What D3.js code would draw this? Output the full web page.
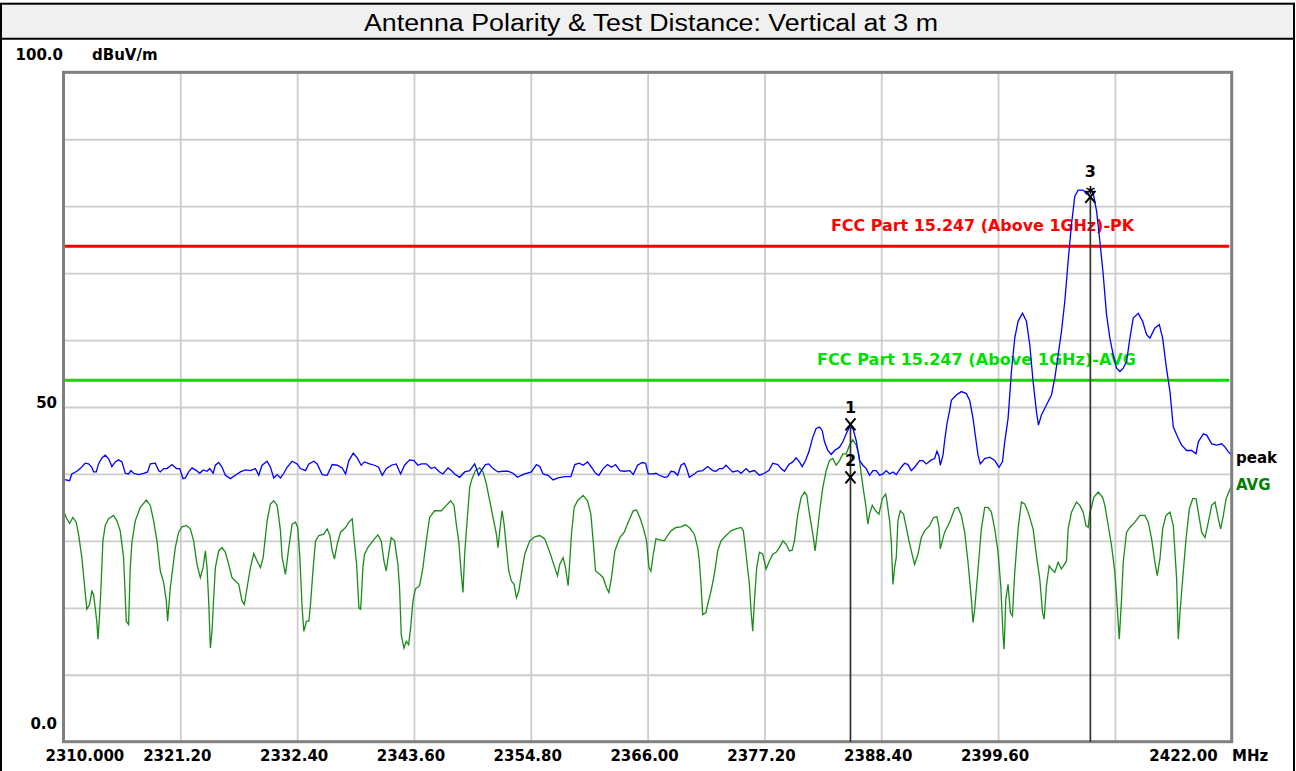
<!DOCTYPE html>
<html>
<head>
<meta charset="utf-8">
<script src="https://cdn.jsdelivr.net/npm/d3@7"></script>
<style>
  body { margin: 0; background: #fff; }
  svg { display: block; }
</style>
</head>
<body>
<svg id="chart" width="1296" height="771"></svg>
<script>
const title = "Antenna Polarity & Test Distance: Vertical at 3 m";
const unitLabel = "dBuV/m";
const freqUnit = "MHz";

const xTicks = [2310, 2321.2, 2332.4, 2343.6, 2354.8, 2366, 2377.2, 2388.4, 2399.6, 2410.8, 2422];
const xTickLabels = ["2310.000", "2321.20", "2332.40", "2343.60", "2354.80", "2366.00", "2377.20", "2388.40", "2399.60", "", "2422.00"];
const yTicks = [0, 10, 20, 30, 40, 50, 60, 70, 80, 90, 100];
const yTickLabels = { 100: "100.0", 50: "50", 0: "0.0" };

const limitNames = ["FCC Part 15.247 (Above 1GHz)-PK", "FCC Part 15.247 (Above 1GHz)-AVG"];
const limitLevels = [74, 54];

const markerIds = ["1", "2", "3"];
const markerFreqs = [2385.45, 2385.45, 2408.45];
const markerLevels = [47.4, 39.5, 81.4];

// peak trace [MHz, dBuV/m]
const peakTrace = [[2310.00,39.2],[2310.58,39.0],[2310.80,40.0],[2311.28,40.4],[2311.60,40.8],[2312.08,41.6],[2312.40,41.5],[2312.72,41.0],[2312.88,40.3],[2313.14,40.3],[2313.36,41.5],[2313.68,42.4],[2314.00,42.8],[2314.32,42.3],[2314.64,41.1],[2314.96,41.8],[2315.28,42.1],[2315.60,41.8],[2315.92,40.1],[2316.24,40.0],[2316.46,40.5],[2316.72,40.1],[2317.20,39.9],[2317.68,40.1],[2318.06,40.3],[2318.32,41.5],[2318.80,41.6],[2319.12,40.5],[2319.28,40.3],[2319.60,40.8],[2319.92,40.8],[2320.40,41.4],[2320.82,40.8],[2321.14,40.8],[2321.46,39.3],[2321.68,39.4],[2322.00,40.3],[2322.32,40.9],[2322.74,40.5],[2323.06,40.1],[2323.38,40.6],[2323.76,40.4],[2324.02,40.8],[2324.34,40.1],[2324.56,41.3],[2324.88,41.7],[2325.20,41.0],[2325.52,39.8],[2326.00,39.3],[2326.48,39.8],[2326.96,40.3],[2327.44,40.6],[2327.92,40.5],[2328.40,40.8],[2328.72,39.8],[2329.04,41.3],[2329.52,41.9],[2329.84,41.0],[2330.16,39.4],[2330.48,39.9],[2330.80,39.4],[2331.12,40.1],[2331.44,41.0],[2331.92,41.9],[2332.40,41.5],[2332.72,40.8],[2333.20,40.5],[2333.52,41.5],[2334.00,41.9],[2334.32,41.5],[2334.80,39.9],[2335.28,39.8],[2335.76,41.4],[2336.24,41.3],[2336.72,40.9],[2337.04,40.0],[2337.36,42.0],[2337.78,43.1],[2338.16,42.4],[2338.54,41.3],[2338.86,41.8],[2339.34,41.5],[2339.82,41.3],[2340.21,41.0],[2340.56,39.8],[2340.94,40.8],[2341.42,41.3],[2341.90,41.5],[2342.32,40.0],[2342.70,41.3],[2343.18,42.1],[2343.60,42.0],[2343.98,41.3],[2344.30,41.5],[2344.78,41.5],[2345.26,40.8],[2345.58,41.0],[2346.06,40.3],[2346.38,40.0],[2346.86,40.9],[2347.18,40.5],[2347.50,40.0],[2347.98,39.5],[2348.46,40.3],[2348.94,40.5],[2349.42,41.5],[2349.81,39.8],[2350.06,40.5],[2350.45,41.4],[2350.77,41.5],[2351.18,40.8],[2351.66,40.3],[2352.14,40.4],[2352.62,40.4],[2353.10,40.1],[2353.52,39.5],[2353.90,39.8],[2354.22,40.0],[2354.86,40.3],[2355.34,41.4],[2355.66,41.1],[2355.98,40.0],[2356.46,39.8],[2356.94,39.1],[2357.42,39.4],[2358.06,39.6],[2358.64,39.6],[2359.02,41.4],[2359.44,41.6],[2359.82,41.3],[2360.24,41.8],[2360.62,41.0],[2361.01,40.1],[2361.33,39.8],[2361.74,40.8],[2362.16,41.4],[2362.54,41.0],[2362.93,41.4],[2363.34,40.5],[2363.76,40.4],[2364.30,40.5],[2364.62,39.9],[2365.04,41.3],[2365.49,41.7],[2365.81,41.6],[2366.06,40.0],[2366.54,40.0],[2366.80,40.1],[2367.12,39.8],[2367.60,39.5],[2367.92,39.6],[2368.24,40.4],[2368.56,40.3],[2368.88,39.8],[2369.20,41.3],[2369.52,41.6],[2369.74,40.8],[2370.00,39.5],[2370.32,39.8],[2370.80,40.4],[2371.28,40.5],[2371.76,41.1],[2372.24,40.5],[2372.56,40.4],[2372.88,40.8],[2373.20,40.8],[2373.52,41.3],[2373.84,40.8],[2374.16,40.3],[2374.64,40.5],[2374.96,40.1],[2375.44,40.8],[2375.76,40.3],[2376.24,40.5],[2376.72,39.8],[2377.20,40.1],[2377.62,40.5],[2378.00,41.6],[2378.48,41.4],[2378.80,40.8],[2379.12,40.4],[2379.54,41.4],[2379.92,41.8],[2380.24,42.4],[2380.56,41.8],[2380.82,41.1],[2381.14,42.0],[2381.46,43.3],[2381.84,45.5],[2382.16,46.8],[2382.48,47.0],[2382.74,46.5],[2382.96,44.8],[2383.28,43.5],[2383.60,42.9],[2383.92,43.5],[2384.40,44.0],[2384.72,44.8],[2385.04,46.0],[2385.36,47.0],[2385.68,46.8],[2386.00,45.0],[2386.32,42.0],[2386.64,41.3],[2386.96,40.8],[2387.28,39.8],[2387.60,40.5],[2387.92,40.5],[2388.24,39.8],[2388.56,40.0],[2388.88,40.5],[2389.20,40.0],[2389.52,40.3],[2389.84,39.9],[2390.32,41.0],[2390.64,41.6],[2390.96,41.4],[2391.28,40.5],[2391.60,41.0],[2392.08,42.0],[2392.40,42.0],[2392.72,41.5],[2393.20,42.1],[2393.52,42.3],[2393.74,43.4],[2393.94,42.6],[2394.06,41.3],[2394.32,42.8],[2394.48,45.0],[2394.70,47.5],[2394.96,49.5],[2395.12,51.0],[2395.60,51.8],[2396.08,52.3],[2396.56,52.0],[2396.88,51.0],[2397.20,48.3],[2397.46,45.3],[2397.68,42.8],[2397.90,41.5],[2398.32,42.3],[2398.80,42.5],[2399.28,42.0],[2399.70,41.0],[2400.02,41.8],[2400.24,44.8],[2400.56,48.3],[2400.88,55.3],[2401.20,60.3],[2401.52,62.8],[2401.94,64.0],[2402.32,62.8],[2402.64,59.3],[2402.96,53.8],[2403.28,49.3],[2403.47,47.3],[2403.76,48.8],[2404.24,50.3],[2404.72,51.8],[2405.04,54.3],[2405.36,57.8],[2405.68,61.3],[2406.00,65.8],[2406.32,71.8],[2406.64,77.3],[2406.96,81.5],[2407.28,82.4],[2407.76,82.4],[2408.08,81.8],[2408.40,82.3],[2408.72,82.0],[2409.04,79.3],[2409.36,74.8],[2409.68,69.8],[2410.00,63.8],[2410.32,60.3],[2410.64,57.8],[2410.96,55.8],[2411.28,55.3],[2411.60,55.8],[2411.92,56.8],[2412.24,60.3],[2412.56,63.3],[2413.04,64.0],[2413.46,62.8],[2413.84,60.8],[2414.16,60.3],[2414.64,61.8],[2415.06,62.3],[2415.38,60.3],[2415.70,56.3],[2416.08,52.3],[2416.40,47.0],[2416.88,45.3],[2417.20,44.3],[2417.68,43.5],[2418.16,43.5],[2418.58,43.0],[2418.80,44.8],[2419.28,46.0],[2419.60,45.8],[2420.08,44.5],[2420.56,44.3],[2421.04,44.5],[2421.36,44.0],[2421.68,43.3],[2422.00,42.8]];

// average trace [MHz, dBuV/m]
const avgTrace = [[2310.00,34.5],[2310.32,33.3],[2310.58,32.6],[2310.90,33.5],[2311.22,32.8],[2311.44,31.0],[2311.76,27.5],[2312.08,22.3],[2312.24,19.8],[2312.50,20.5],[2312.72,22.5],[2312.88,22.0],[2313.04,20.0],[2313.20,17.8],[2313.30,15.3],[2313.46,19.0],[2313.58,22.5],[2313.78,30.0],[2314.00,32.3],[2314.32,33.3],[2314.80,33.8],[2315.12,33.0],[2315.44,31.5],[2315.76,27.5],[2316.02,18.0],[2316.24,17.5],[2316.40,26.0],[2316.56,29.8],[2316.88,33.0],[2317.36,35.0],[2317.94,36.1],[2318.32,35.3],[2318.64,33.0],[2318.96,30.0],[2319.28,25.5],[2319.60,23.8],[2319.86,21.0],[2319.98,18.0],[2320.24,23.0],[2320.72,29.0],[2321.04,31.3],[2321.36,32.1],[2321.78,32.3],[2322.16,31.8],[2322.48,30.0],[2322.80,26.5],[2323.12,24.5],[2323.38,26.0],[2323.60,28.5],[2323.76,26.0],[2323.92,21.0],[2324.08,14.0],[2324.24,16.5],[2324.40,21.5],[2324.56,26.0],[2324.88,28.5],[2325.20,29.0],[2325.52,28.3],[2325.84,26.5],[2326.16,24.5],[2326.48,24.0],[2326.80,23.5],[2327.12,21.0],[2327.34,20.5],[2327.60,23.0],[2327.92,26.0],[2328.24,28.1],[2328.56,27.0],[2328.88,26.0],[2329.14,27.5],[2329.52,33.0],[2329.84,35.5],[2330.16,36.0],[2330.48,35.3],[2330.64,33.5],[2330.80,31.5],[2330.96,27.5],[2331.28,25.0],[2331.60,29.0],[2331.92,32.5],[2332.24,32.8],[2332.46,32.0],[2332.66,27.5],[2332.88,20.0],[2333.04,16.5],[2333.30,18.0],[2333.52,18.0],[2333.68,20.5],[2333.94,26.0],[2334.16,30.0],[2334.48,30.8],[2334.96,31.0],[2335.28,31.8],[2335.54,30.8],[2335.76,28.5],[2335.98,27.3],[2336.24,29.5],[2336.56,31.3],[2337.04,32.0],[2337.36,32.8],[2337.68,33.3],[2337.84,30.5],[2338.10,26.5],[2338.32,20.0],[2338.48,19.8],[2338.54,21.0],[2338.70,26.0],[2338.86,28.0],[2339.18,29.0],[2339.66,30.0],[2340.14,30.9],[2340.46,30.0],[2340.72,27.0],[2340.94,25.5],[2341.17,28.0],[2341.42,30.5],[2341.74,30.0],[2342.06,26.5],[2342.22,23.0],[2342.38,16.0],[2342.64,14.0],[2342.86,15.0],[2343.09,14.5],[2343.28,17.0],[2343.50,21.0],[2343.73,22.8],[2344.14,23.3],[2344.46,26.0],[2344.78,30.0],[2345.10,33.5],[2345.58,34.5],[2346.22,34.5],[2346.70,35.3],[2347.12,36.0],[2347.44,35.3],[2347.66,32.5],[2347.89,30.0],[2348.14,25.0],[2348.30,22.3],[2348.46,28.0],[2348.72,33.5],[2348.94,38.0],[2349.17,39.3],[2349.49,40.5],[2349.90,40.9],[2350.22,40.3],[2350.54,38.5],[2350.86,36.0],[2351.18,33.5],[2351.50,31.0],[2351.66,29.0],[2351.86,32.0],[2352.05,34.5],[2352.24,32.5],[2352.46,29.0],[2352.69,25.5],[2352.94,24.0],[2353.20,23.5],[2353.42,21.5],[2353.65,22.5],[2353.90,25.0],[2354.22,28.0],[2354.70,30.0],[2355.18,30.6],[2355.66,30.8],[2356.14,30.3],[2356.62,28.3],[2357.10,26.0],[2357.36,24.8],[2357.58,26.5],[2357.90,27.5],[2358.13,26.0],[2358.38,23.3],[2358.54,27.0],[2358.70,31.0],[2358.96,35.0],[2359.28,36.0],[2359.82,36.8],[2360.24,36.0],[2360.56,34.0],[2360.78,30.0],[2361.01,25.5],[2361.42,25.0],[2361.74,24.5],[2362.06,23.0],[2362.29,22.3],[2362.54,24.5],[2362.86,28.5],[2363.34,30.5],[2363.76,31.3],[2364.14,32.8],[2364.62,34.5],[2364.94,34.6],[2365.26,33.5],[2365.58,32.0],[2365.90,30.0],[2366.13,26.0],[2366.32,25.5],[2366.54,28.0],[2366.80,30.3],[2367.28,30.1],[2367.60,30.0],[2367.92,30.8],[2368.24,31.5],[2368.72,32.0],[2369.20,32.1],[2369.62,32.4],[2370.00,32.0],[2370.48,31.0],[2370.80,29.0],[2370.96,27.0],[2371.12,23.5],[2371.28,19.0],[2371.60,19.3],[2371.76,20.5],[2372.08,22.5],[2372.40,25.0],[2372.72,28.5],[2373.04,30.0],[2373.52,30.8],[2374.00,31.5],[2374.48,31.8],[2374.96,32.0],[2375.18,31.5],[2375.44,28.0],[2375.76,23.5],[2375.92,19.5],[2376.08,16.5],[2376.24,21.0],[2376.46,26.0],[2376.72,28.3],[2377.04,28.0],[2377.36,25.8],[2377.68,27.0],[2378.00,28.0],[2378.32,28.3],[2378.64,29.0],[2378.96,30.0],[2379.28,29.5],[2379.60,28.5],[2379.86,28.6],[2380.08,30.0],[2380.40,34.0],[2380.72,36.5],[2381.04,37.3],[2381.26,36.8],[2381.52,34.0],[2381.84,31.0],[2382.06,28.5],[2382.32,32.0],[2382.54,35.0],[2382.80,38.0],[2383.12,40.5],[2383.44,42.0],[2383.76,42.3],[2384.08,41.3],[2384.40,42.0],[2384.72,43.0],[2385.04,43.0],[2385.36,44.3],[2385.68,45.1],[2386.00,44.3],[2386.26,42.8],[2386.48,40.0],[2386.70,37.5],[2386.90,35.5],[2387.12,32.5],[2387.28,34.0],[2387.54,35.3],[2387.86,34.5],[2388.18,34.0],[2388.50,36.3],[2388.82,37.0],[2388.94,36.0],[2389.20,33.0],[2389.36,30.0],[2389.52,23.5],[2389.68,26.0],[2389.84,27.5],[2390.00,33.0],[2390.22,34.5],[2390.54,34.0],[2390.80,32.0],[2391.06,30.0],[2391.28,28.5],[2391.60,26.5],[2391.92,28.0],[2392.24,30.5],[2392.56,31.5],[2393.04,32.3],[2393.42,33.5],[2393.74,33.6],[2393.94,32.0],[2394.06,28.8],[2394.26,30.0],[2394.48,31.3],[2394.80,32.3],[2394.96,32.8],[2395.44,34.8],[2395.76,35.0],[2396.08,33.8],[2396.40,31.3],[2396.72,26.8],[2397.04,21.3],[2397.20,17.8],[2397.36,19.8],[2397.68,25.8],[2398.00,31.8],[2398.32,35.0],[2398.64,35.0],[2398.96,34.3],[2399.28,31.8],[2399.60,28.3],[2399.86,23.3],[2400.08,15.8],[2400.18,13.8],[2400.34,21.3],[2400.56,23.5],[2400.78,19.3],[2400.98,18.8],[2401.20,25.3],[2401.52,31.8],[2401.84,35.8],[2402.16,35.5],[2402.48,34.3],[2402.96,31.8],[2403.28,27.8],[2403.60,24.3],[2403.86,19.3],[2404.02,18.3],[2404.24,23.3],[2404.50,26.3],[2404.72,25.8],[2405.04,25.3],[2405.36,26.8],[2405.68,25.8],[2406.16,27.0],[2406.32,31.8],[2406.64,34.3],[2407.12,35.8],[2407.44,35.3],[2407.76,34.3],[2408.02,32.3],[2408.24,32.0],[2408.40,34.3],[2408.56,35.0],[2408.78,36.5],[2409.20,37.3],[2409.62,36.5],[2409.84,35.3],[2410.16,32.3],[2410.48,29.3],[2410.80,25.3],[2411.02,20.3],[2411.22,15.3],[2411.44,21.3],[2411.60,26.8],[2411.92,31.3],[2412.24,32.0],[2412.72,32.8],[2413.20,33.8],[2413.68,33.8],[2414.00,32.8],[2414.32,30.3],[2414.64,26.8],[2414.86,24.8],[2415.12,27.3],[2415.38,31.8],[2415.70,33.8],[2416.08,34.3],[2416.40,32.3],[2416.72,24.3],[2416.88,15.3],[2417.04,19.3],[2417.30,24.3],[2417.62,30.3],[2417.94,34.8],[2418.26,36.3],[2418.58,36.3],[2418.80,34.3],[2419.12,31.3],[2419.44,30.5],[2419.76,32.8],[2420.08,35.3],[2420.40,35.8],[2420.72,33.3],[2420.94,31.8],[2421.20,33.8],[2421.46,36.3],[2421.78,37.5],[2422.00,38.3]];

const svg = d3.select("#chart");
const boldFont = "'DejaVu Sans', sans-serif";

const plotLeft = 63.5, plotRight = 1231.7, plotTop = 72.3, plotBottom = 741.7;
const x = d3.scaleLinear().domain([2310, 2422]).range([plotLeft, plotRight]);
const y = d3.scaleLinear().domain([0, 100]).range([plotBottom, plotTop]);

// outer frame + title band
svg.append("rect").attr("x", 1).attr("y", 3.7).attr("width", 1293).attr("height", 35)
  .attr("fill", "#f0f0f0");
svg.append("rect").attr("x", 1).attr("y", 3.7).attr("width", 1293).attr("height", 780)
  .attr("fill", "none").attr("stroke", "#000").attr("stroke-width", 2);
svg.append("line").attr("x1", 1).attr("x2", 1294).attr("y1", 38.8).attr("y2", 38.8)
  .attr("stroke", "#000").attr("stroke-width", 2);
svg.append("text").attr("x", 364).attr("y", 31)
  .attr("textLength", 574).attr("lengthAdjust", "spacingAndGlyphs")
  .style("font-family", "'Liberation Sans', Arial, sans-serif").style("font-size", "23px")
  .attr("fill", "#000").text(title);

// grid
svg.append("g").attr("transform", `translate(0,${plotBottom})`)
  .call(d3.axisBottom(x).tickValues(xTicks).tickSize(-(plotBottom - plotTop)).tickFormat(""))
  .call(g => g.select(".domain").remove())
  .selectAll("line").attr("stroke", "#cccccc").attr("stroke-width", 1.8);
svg.append("g").attr("transform", `translate(${plotLeft},0)`)
  .call(d3.axisLeft(y).tickValues(yTicks).tickSize(-(plotRight - plotLeft)).tickFormat(""))
  .call(g => g.select(".domain").remove())
  .selectAll("line").attr("stroke", "#cccccc").attr("stroke-width", 1.8);

// limit lines
const limitColors = ["#ff0000", "#00e000"];
limitLevels.forEach((lv, i) => {
  svg.append("line").attr("x1", plotLeft).attr("x2", plotRight - 2.5)
    .attr("y1", y(lv)).attr("y2", y(lv))
    .attr("stroke", limitColors[i]).attr("stroke-width", 3);
});
const limitLabelEnd = [1134, 1136];
const limitLabelLen = [303, 319];
limitNames.forEach((name, i) => {
  svg.append("text").attr("x", limitLabelEnd[i] - limitLabelLen[i]).attr("y", y(limitLevels[i]) - 15)
    .attr("textLength", limitLabelLen[i]).attr("lengthAdjust", "spacingAndGlyphs")
    .style("font-family", boldFont).style("font-weight", "bold").style("font-size", "15px")
    .attr("fill", limitColors[i]).text(name);
});

// traces
const line = d3.line().x(d => x(d[0])).y(d => y(d[1]));
svg.append("path").datum(avgTrace).attr("d", line)
  .attr("fill", "none").attr("stroke", "#1a8c1a").attr("stroke-width", 1.3);
svg.append("path").datum(peakTrace).attr("d", line)
  .attr("fill", "none").attr("stroke", "#0000ff").attr("stroke-width", 1.3);

// plot frame
svg.append("rect").attr("x", plotLeft).attr("y", plotTop)
  .attr("width", plotRight - plotLeft).attr("height", plotBottom - plotTop)
  .attr("fill", "none").attr("stroke", "#808080").attr("stroke-width", 3);

// markers
const markerTops = {};
markerFreqs.forEach((f, i) => {
  markerTops[f] = Math.min(markerTops[f] === undefined ? Infinity : markerTops[f], y(markerLevels[i]));
});
Object.keys(markerTops).forEach(f => {
  svg.append("line").attr("x1", x(+f)).attr("x2", x(+f))
    .attr("y1", markerTops[f]).attr("y2", plotBottom)
    .attr("stroke", "#333").attr("stroke-width", 1.7);
});
markerIds.forEach((id, i) => {
  const mx = x(markerFreqs[i]), my = y(markerLevels[i]);
  svg.append("path")
    .attr("d", `M${mx - 5},${my - 6}L${mx + 5},${my + 6}M${mx + 5},${my - 6}L${mx - 5},${my + 6}`)
    .attr("stroke", "#000").attr("stroke-width", 2).attr("fill", "none");
  svg.append("text").attr("x", mx).attr("y", my - (id === "3" ? 20 : 11))
    .attr("text-anchor", "middle")
    .style("font-family", boldFont).style("font-weight", "bold").style("font-size", "16px")
    .attr("fill", "#000").text(id);
});
svg.append("text").attr("x", x(markerFreqs[2])).attr("y", y(markerLevels[2]) + 2)
  .attr("text-anchor", "middle")
  .style("font-family", boldFont).style("font-weight", "bold").style("font-size", "18px")
  .attr("fill", "#000").text("*");

// axis labels
const lab = (tx, ty, s, anchor, color) => svg.append("text")
  .attr("x", tx).attr("y", ty).attr("text-anchor", anchor || "start")
  .style("font-family", boldFont).style("font-weight", "bold").style("font-size", "15px")
  .attr("fill", color || "#000").text(s);

lab(63, 60, yTickLabels[100], "end");
lab(92, 60, unitLabel);
Object.keys(yTickLabels).filter(k => +k !== 100).forEach(k => {
  lab(57, y(+k) + (+k === 0 ? -13 : 0.5), yTickLabels[k], "end");
});

xTicks.forEach((t, i) => {
  const s = xTickLabels[i];
  if (!s) return;
  if (i === 0) lab(x(t) - 18, 761, s, "start");
  else if (i === xTicks.length - 1) lab(x(t) - 14, 761, s, "end");
  else lab(x(t) - 3, 761, s, "middle");
});
lab(1232, 761, freqUnit);

// trace legend
lab(1236, 463, "peak");
lab(1236, 490, "AVG", "start", "#008000");
</script>
</body>
</html>
